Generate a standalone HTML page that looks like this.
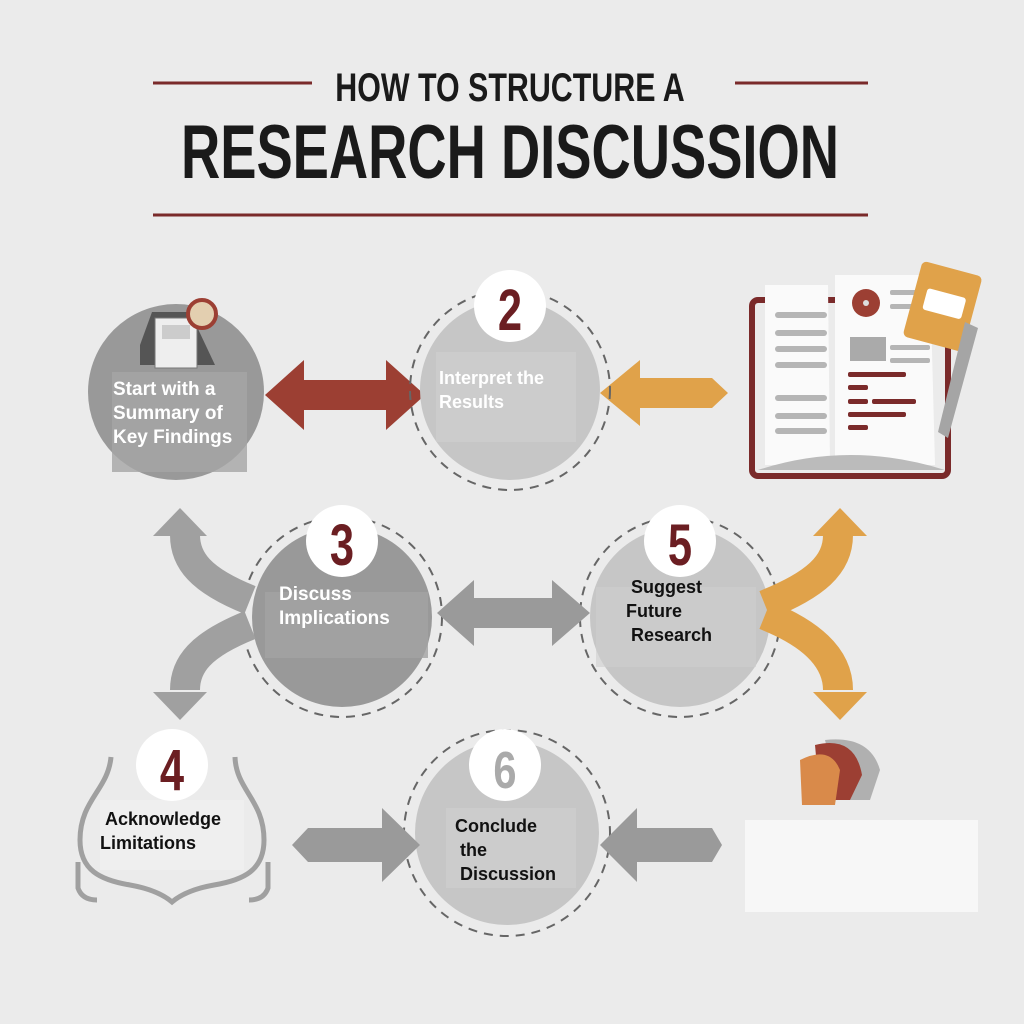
<!DOCTYPE html>
<html><head><meta charset="utf-8"><style>
html,body{margin:0;padding:0;background:#ebebeb;}
svg{display:block;}
.t{font-family:"Liberation Sans",Arial,sans-serif;font-weight:bold;}
.num{font-family:"Liberation Sans",sans-serif;font-weight:bold;fill:#6b1e22;}
</style></head><body>
<svg width="1024" height="1024" viewBox="0 0 1024 1024" xmlns="http://www.w3.org/2000/svg">
<rect width="1024" height="1024" fill="#ebebeb"/>
<!-- title -->
<line x1="153" y1="83" x2="312" y2="83" stroke="#7a2a2a" stroke-width="3"/>
<line x1="735" y1="83" x2="868" y2="83" stroke="#7a2a2a" stroke-width="3"/>
<text class="t" x="510" y="101" text-anchor="middle" font-size="40" fill="#1a1a1a" transform="translate(510 0) scale(0.76 1) translate(-510 0)">HOW TO STRUCTURE A</text>
<text class="t" x="510" y="178" text-anchor="middle" font-size="76" fill="#1a1a1a" transform="translate(510 0) scale(0.715 1) translate(-510 0)">RESEARCH DISCUSSION</text>
<line x1="153" y1="215" x2="868" y2="215" stroke="#7a2a2a" stroke-width="3"/>

<!-- arrows row 1 -->
<polygon points="265,395 304,360 304,380 386,380 386,360 425,395 386,430 386,410 304,410 304,430" fill="#9c3f33"/>
<polygon points="600,393 640,360 640,378 712,378 728,393 712,408 640,408 640,426" fill="#e0a24a"/>

<!-- circle 1 -->
<circle cx="176" cy="392" r="88" fill="#999"/>
<rect x="112" y="372" width="135" height="100" fill="#a5a5a5" opacity="0.8"/>
<polygon points="140,345 152,312 190,312 215,365 140,365" fill="#555"/>
<rect x="155" y="318" width="42" height="50" fill="#eee" stroke="#777"/>
<rect x="162" y="325" width="28" height="14" fill="#ccc"/>
<circle cx="202" cy="314" r="14" fill="#e3cfb0" stroke="#9c3f33" stroke-width="4"/>
<text class="t" fill="#fff" font-size="19"><tspan x="113" y="395">Start with a</tspan><tspan x="113" y="419">Summary of</tspan><tspan x="113" y="443">Key Findings</tspan></text>

<!-- circle 2 -->
<circle cx="510" cy="390" r="100" fill="none" stroke="#666" stroke-width="2" stroke-dasharray="9 7"/>
<circle cx="510" cy="390" r="90" fill="#c6c6c6"/>
<rect x="436" y="352" width="140" height="90" fill="#d0d0d0" opacity="0.6"/>
<circle cx="510" cy="306" r="36" fill="#fff"/>
<text class="num" x="510" y="330" text-anchor="middle" font-size="58" transform="translate(510 0) scale(0.75 1) translate(-510 0)">2</text>
<text class="t" fill="#fff" font-size="18"><tspan x="439" y="384">Interpret the</tspan><tspan x="439" y="408">Results</tspan></text>

<!-- book -->
<rect x="752" y="300" width="196" height="176" rx="6" fill="none" stroke="#7a2a2a" stroke-width="6"/>
<path d="M765,285 L828,285 L830,465 L765,465 Z" fill="#fafafa"/>
<path d="M835,275 L930,275 L935,465 L835,465 Z" fill="#fafafa"/>
<path d="M758,470 Q850,440 945,470 Z" fill="#bbb"/>
<g fill="#b5b5b5">
<rect x="775" y="312" width="52" height="6" rx="3"/><rect x="775" y="330" width="52" height="6" rx="3"/>
<rect x="775" y="346" width="52" height="6" rx="3"/><rect x="775" y="362" width="52" height="6" rx="3"/>
<rect x="775" y="395" width="52" height="6" rx="3"/><rect x="775" y="413" width="52" height="6" rx="3"/>
<rect x="775" y="428" width="52" height="6" rx="3"/>
<rect x="850" y="337" width="36" height="24" fill="#aaa"/>
<rect x="890" y="290" width="30" height="5" rx="2"/><rect x="890" y="304" width="30" height="5" rx="2"/>
<rect x="890" y="345" width="40" height="5" rx="2"/><rect x="890" y="358" width="40" height="5" rx="2"/>
</g>
<circle cx="866" cy="303" r="14" fill="#9c3f33"/><circle cx="866" cy="303" r="3" fill="#ddd"/>
<g fill="#7a2a2a">
<rect x="848" y="372" width="58" height="5" rx="2"/><rect x="848" y="385" width="20" height="5" rx="2"/>
<rect x="848" y="399" width="20" height="5" rx="2"/><rect x="872" y="399" width="44" height="5" rx="2"/>
<rect x="848" y="412" width="58" height="5" rx="2"/><rect x="848" y="425" width="20" height="5" rx="2"/>
</g>
<g transform="rotate(15 945 305)"><rect x="912" y="268" width="62" height="78" rx="5" fill="#e0a24a"/><rect x="924" y="293" width="40" height="22" rx="3" fill="#fff"/></g>
<polygon points="965,322 978,328 948,438 938,432" fill="#a5a5a5"/>

<!-- row 2 circles -->
<circle cx="342" cy="617" r="100" fill="none" stroke="#666" stroke-width="2" stroke-dasharray="9 7"/>
<circle cx="342" cy="617" r="90" fill="#999"/>
<rect x="265" y="592" width="163" height="66" fill="#a3a3a3" opacity="0.8"/>
<circle cx="342" cy="541" r="36" fill="#fff"/>
<text class="num" x="342" y="565" text-anchor="middle" font-size="58" transform="translate(342 0) scale(0.75 1) translate(-342 0)">3</text>
<text class="t" fill="#fff" font-size="19"><tspan x="279" y="600">Discuss</tspan><tspan x="279" y="624">Implications</tspan></text>

<circle cx="680" cy="617" r="100" fill="none" stroke="#666" stroke-width="2" stroke-dasharray="9 7"/>
<circle cx="680" cy="617" r="90" fill="#c6c6c6"/>
<rect x="596" y="587" width="160" height="80" fill="#cfcfcf" opacity="0.6"/>
<circle cx="680" cy="541" r="36" fill="#fff"/>
<text class="num" x="680" y="565" text-anchor="middle" font-size="58" transform="translate(680 0) scale(0.75 1) translate(-680 0)">5</text>
<text class="t" fill="#111" font-size="18"><tspan x="631" y="593">Suggest</tspan><tspan x="626" y="617">Future</tspan><tspan x="631" y="641">Research</tspan></text>

<polygon points="437,613 474,580 474,598 552,598 552,580 590,613 552,646 552,628 474,628 474,646" fill="#9a9a9a"/>

<!-- gray curved arrows -->
<path d="M250,600 C200,580 185,560 185,535" fill="none" stroke="#a0a0a0" stroke-width="30"/>
<polygon points="180,508 207,536 153,536" fill="#a0a0a0"/>
<path d="M250,625 C200,645 185,665 185,690" fill="none" stroke="#a0a0a0" stroke-width="30"/>
<polygon points="180,720 207,692 153,692" fill="#a0a0a0"/>
<!-- orange curved arrows -->
<path d="M765,605 C815,585 838,565 838,535" fill="none" stroke="#e0a24a" stroke-width="30"/>
<polygon points="840,508 867,536 813,536" fill="#e0a24a"/>
<path d="M765,615 C815,635 838,660 838,690" fill="none" stroke="#e0a24a" stroke-width="30"/>
<polygon points="840,720 867,692 813,692" fill="#e0a24a"/>

<!-- 4 -->
<path d="M111,757 C108,790 80,800 80,840 C80,870 100,880 130,885 Q158,890 172,902 Q186,890 214,885 C244,880 264,870 264,840 C264,800 236,790 235,757" fill="none" stroke="#a0a0a0" stroke-width="5"/>
<path d="M78,862 L78,888 Q82,900 97,900" fill="none" stroke="#a0a0a0" stroke-width="5"/>
<path d="M268,862 L268,888 Q264,900 249,900" fill="none" stroke="#a0a0a0" stroke-width="5"/>
<rect x="100" y="800" width="144" height="70" fill="#efefef"/>
<circle cx="172" cy="765" r="36" fill="#fff"/>
<text class="num" x="172" y="790" text-anchor="middle" font-size="58" transform="translate(172 0) scale(0.75 1) translate(-172 0)">4</text>
<text class="t" fill="#111" font-size="18"><tspan x="105" y="825">Acknowledge</tspan><tspan x="100" y="849">Limitations</tspan></text>

<!-- 6 -->
<circle cx="507" cy="833" r="103" fill="none" stroke="#666" stroke-width="2" stroke-dasharray="9 7"/>
<circle cx="507" cy="833" r="92" fill="#c6c6c6"/>
<rect x="446" y="808" width="130" height="80" fill="#d0d0d0" opacity="0.6"/>
<circle cx="505" cy="765" r="36" fill="#fff"/>
<text x="505" y="788" text-anchor="middle" font-size="52" font-family="Liberation Sans,sans-serif" font-weight="bold" fill="#aaa" transform="translate(505 0) scale(0.8 1) translate(-505 0)">6</text>
<text class="t" fill="#111" font-size="18"><tspan x="455" y="832">Conclude</tspan><tspan x="460" y="856">the</tspan><tspan x="460" y="880">Discussion</tspan></text>

<polygon points="292,845 308,828 382,828 382,808 420,845 382,882 382,862 308,862" fill="#9a9a9a"/>
<polygon points="600,845 637,808 637,828 712,828 722,845 712,862 637,862 637,882" fill="#9a9a9a"/>

<!-- helmet -->
<path d="M825,740 Q870,735 880,770 L870,800 L840,800 Z" fill="#b0b0b0"/>
<path d="M815,745 Q855,735 862,775 L850,800 L820,800 Z" fill="#9c3f33"/>
<path d="M800,760 Q830,745 840,770 L835,805 L802,805 Z" fill="#d98a4a"/>
<rect x="745" y="820" width="233" height="92" fill="#f7f7f7"/>
</svg>
</body></html>
